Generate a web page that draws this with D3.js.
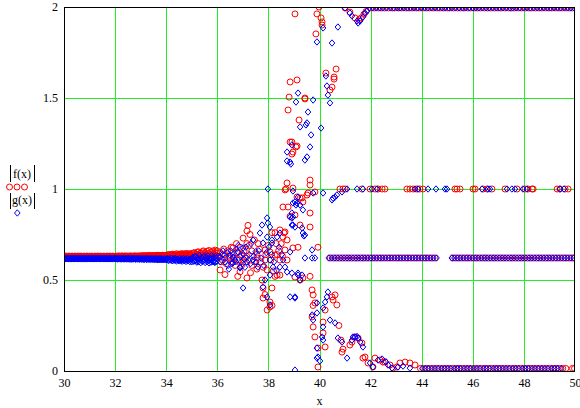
<!DOCTYPE html>
<html><head><meta charset="utf-8">
<script src="https://cdn.jsdelivr.net/npm/d3@7"></script>
<style>
body{margin:0;background:#fff}
svg{display:block}
text{font-family:"Liberation Serif","Times New Roman",serif;font-size:12px;fill:#000}
</style>
</head><body><svg id="c" width="580" height="408"></svg>
<script>
// ---------- axis ticks ----------
const xTicks = [30,32,34,36,38,40,42,44,46,48,50];
const yTicks = [0,0.5,1,1.5,2];
const yTickLabels = ["0","0.5","1","1.5","2"];
const xLabel = "x";
const fLabel = "f(x)";
const gLabel = "g(x)";

// ---------- steady band 30..36 (sample x, |f|, |g|) ----------
const bandX = [
  30.000,30.025,30.050,30.075,30.100,30.125,30.150,30.175,30.200,30.225,30.250,30.275,30.300,30.325,30.350,30.375,30.400,30.425,30.450,30.475,
  30.500,30.525,30.550,30.575,30.600,30.625,30.650,30.675,30.700,30.725,30.750,30.775,30.800,30.825,30.850,30.875,30.900,30.925,30.950,30.975,
  31.000,31.025,31.050,31.075,31.100,31.125,31.150,31.175,31.200,31.225,31.250,31.275,31.300,31.325,31.350,31.375,31.400,31.425,31.450,31.475,
  31.500,31.525,31.550,31.575,31.600,31.625,31.650,31.675,31.700,31.725,31.750,31.775,31.800,31.825,31.850,31.875,31.900,31.925,31.950,31.975,
  32.000,32.025,32.050,32.075,32.100,32.125,32.150,32.175,32.200,32.225,32.250,32.275,32.300,32.325,32.350,32.375,32.400,32.425,32.450,32.475,
  32.500,32.525,32.550,32.575,32.600,32.625,32.650,32.675,32.700,32.725,32.750,32.775,32.800,32.825,32.850,32.875,32.900,32.925,32.950,32.975,
  33.000,33.025,33.050,33.075,33.100,33.125,33.150,33.175,33.200,33.225,33.250,33.275,33.300,33.325,33.350,33.375,33.400,33.425,33.450,33.475,
  33.500,33.525,33.550,33.575,33.600,33.625,33.650,33.675,33.700,33.725,33.750,33.775,33.800,33.825,33.850,33.875,33.900,33.925,33.950,33.975,
  34.000,34.025,34.050,34.075,34.100,34.125,34.150,34.175,34.200,34.225,34.250,34.275,34.300,34.325,34.350,34.375,34.400,34.425,34.450,34.475,
  34.500,34.525,34.550,34.575,34.600,34.625,34.650,34.675,34.700,34.725,34.750,34.775,34.800,34.825,34.850,34.875,34.900,34.925,34.950,34.975,
  35.000,35.025,35.050,35.075,35.100,35.125,35.150,35.175,35.200,35.225,35.250,35.275,35.300,35.325,35.350,35.375,35.400,35.425,35.450,35.475,
  35.500,35.525,35.550,35.575,35.600,35.625,35.650,35.675,35.700,35.725,35.750,35.775,35.800,35.825,35.850,35.875,35.900,35.925,35.950,35.975];
const fBandY = [
  0.630,0.629,0.630,0.631,0.630,0.630,0.629,0.630,0.631,0.630,0.629,0.630,0.630,0.631,0.630,0.629,0.630,0.631,0.630,0.630,
  0.629,0.630,0.631,0.630,0.630,0.629,0.630,0.631,0.630,0.629,0.630,0.630,0.631,0.630,0.629,0.630,0.631,0.630,0.630,0.629,
  0.630,0.629,0.630,0.631,0.630,0.630,0.629,0.630,0.631,0.630,0.629,0.630,0.630,0.631,0.630,0.629,0.630,0.631,0.630,0.630,
  0.629,0.630,0.631,0.630,0.630,0.629,0.630,0.631,0.630,0.629,0.630,0.630,0.631,0.630,0.629,0.630,0.631,0.630,0.630,0.629,
  0.630,0.631,0.630,0.629,0.631,0.630,0.632,0.630,0.629,0.631,0.630,0.632,0.631,0.630,0.629,0.631,0.632,0.630,0.631,0.630,
  0.631,0.630,0.629,0.631,0.632,0.630,0.631,0.629,0.630,0.632,0.631,0.630,0.632,0.631,0.629,0.630,0.631,0.632,0.630,0.631,
  0.632,0.631,0.633,0.630,0.631,0.634,0.632,0.630,0.633,0.631,0.630,0.634,0.633,0.631,0.635,0.632,0.630,0.634,0.632,0.633,
  0.634,0.631,0.632,0.635,0.633,0.630,0.634,0.636,0.632,0.631,0.635,0.633,0.630,0.634,0.636,0.632,0.633,0.635,0.631,0.634,
  0.636,0.631,0.632,0.638,0.640,0.630,0.634,0.637,0.630,0.641,0.642,0.633,0.636,0.640,0.628,0.635,0.644,0.632,0.638,0.641,
  0.637,0.630,0.643,0.639,0.631,0.645,0.636,0.629,0.640,0.644,0.633,0.638,0.646,0.630,0.641,0.637,0.632,0.645,0.640,0.634,
  0.645,0.632,0.630,0.648,0.650,0.628,0.625,0.642,0.640,0.652,0.655,0.630,0.620,0.645,0.648,0.626,0.635,0.655,0.660,0.632,
  0.640,0.650,0.624,0.638,0.658,0.630,0.646,0.662,0.628,0.640,0.654,0.622,0.636,0.660,0.645,0.626,0.650,0.664,0.634,0.648];
const gBandY = [
  0.618,0.617,0.616,0.618,0.617,0.617,0.618,0.616,0.617,0.618,0.617,0.616,0.618,0.617,0.617,0.618,0.616,0.617,0.618,0.617,
  0.617,0.618,0.616,0.617,0.618,0.617,0.616,0.618,0.617,0.616,0.617,0.618,0.617,0.616,0.618,0.617,0.616,0.617,0.618,0.617,
  0.618,0.617,0.616,0.618,0.617,0.617,0.618,0.616,0.617,0.618,0.617,0.616,0.618,0.617,0.617,0.618,0.616,0.617,0.618,0.617,
  0.617,0.618,0.616,0.617,0.618,0.617,0.616,0.618,0.617,0.616,0.617,0.618,0.617,0.616,0.618,0.617,0.616,0.617,0.618,0.617,
  0.617,0.616,0.618,0.617,0.615,0.617,0.618,0.616,0.617,0.615,0.618,0.616,0.617,0.618,0.615,0.616,0.617,0.618,0.615,0.617,
  0.616,0.618,0.615,0.617,0.616,0.614,0.618,0.617,0.615,0.616,0.618,0.617,0.614,0.616,0.617,0.615,0.618,0.616,0.614,0.617,
  0.616,0.614,0.618,0.615,0.617,0.613,0.614,0.618,0.616,0.613,0.618,0.615,0.616,0.613,0.617,0.614,0.615,0.618,0.613,0.616,
  0.614,0.617,0.612,0.615,0.618,0.613,0.616,0.611,0.615,0.617,0.612,0.614,0.618,0.613,0.611,0.616,0.614,0.612,0.617,0.613,
  0.612,0.616,0.618,0.609,0.608,0.617,0.614,0.610,0.620,0.607,0.606,0.616,0.613,0.609,0.619,0.612,0.604,0.615,0.612,0.607,
  0.610,0.618,0.605,0.611,0.616,0.603,0.612,0.619,0.606,0.609,0.615,0.602,0.611,0.617,0.605,0.608,0.614,0.601,0.610,0.616,
  0.600,0.618,0.625,0.603,0.605,0.628,0.630,0.604,0.598,0.620,0.615,0.600,0.635,0.612,0.595,0.625,0.620,0.602,0.605,0.630,
  0.610,0.596,0.628,0.618,0.600,0.632,0.608,0.594,0.622,0.612,0.598,0.634,0.615,0.600,0.626,0.606,0.596,0.630,0.618,0.602];

// ---------- transition region 36..44 : [x, |f(x)|] ----------
const fScatter = [
  [36.00,0.66],[36.05,0.63],[36.11,0.65],[36.11,0.555],[36.15,0.60],[36.20,0.61],[36.25,0.67],[36.30,0.64],[36.30,0.53],
  [36.35,0.59],[36.40,0.66],[36.45,0.63],[36.50,0.62],[36.55,0.68],[36.60,0.60],[36.61,0.676],[36.65,0.62],[36.70,0.58],
  [36.75,0.70],[36.77,0.65],[36.80,0.52],[36.85,0.61],[36.89,0.68],[36.89,0.545],[36.95,0.64],[36.95,0.58],[37.01,0.73],
  [37.01,0.60],[37.05,0.66],[37.10,0.62],[37.15,0.63],[37.16,0.77],[37.16,0.70],[37.16,0.511],[37.20,0.80],[37.25,0.69],
  [37.28,0.75],[37.30,0.54],[37.35,0.66],[37.35,0.58],[37.45,0.60],[37.45,0.72],[37.55,0.56],[37.55,0.64],[37.56,0.621],
  [37.60,0.70],[37.65,0.67],[37.70,0.60],[37.75,0.50],[37.79,0.456],[37.79,0.401],[37.80,0.57],[37.87,0.665],[37.87,0.61],
  [37.87,0.42],[37.90,0.64],[37.95,0.555],[37.95,0.335],[38.00,0.69],[38.06,0.654],[38.06,0.379],[38.06,0.352],[38.10,0.61],
  [38.14,0.76],[38.14,0.456],[38.14,0.36],[38.20,0.55],[38.26,0.76],[38.26,0.637],[38.26,0.52],[38.30,0.70],[38.34,0.64],
  [38.34,0.527],[38.40,0.66],[38.45,0.775],[38.45,0.61],[38.45,0.527],[38.50,0.70],[38.55,0.63],[38.57,0.901],[38.57,0.736],
  [38.61,0.759],[38.65,0.995],[38.65,0.764],[38.65,0.665],[38.69,1.00],[38.73,1.033],[38.73,0.72],[38.73,0.61],[38.77,0.901],
  [38.77,1.434],[38.81,1.505],[38.85,0.85],[38.85,1.588],[38.85,1.258],[38.92,1.258],[38.92,1.192],[38.96,1.203],[38.96,1.005],
  [38.96,0.676],[39.04,1.962],[39.04,0.857],[39.04,0.516],[39.08,1.231],[39.12,1.599],[39.12,1.236],[39.12,0.956],[39.16,0.68],
  [39.20,1.379],[39.24,0.95],[39.24,0.802],[39.24,0.50],[39.32,0.951],[39.35,0.929],[39.35,0.511],[39.43,1.50],[39.43,1.495],
  [39.51,0.967],[39.55,0.978],[39.63,1.049],[39.63,1.022],[39.63,0.868],[39.63,0.791],[39.63,0.52],[39.71,0.445],[39.71,0.297],
  [39.75,0.418],[39.75,0.242],[39.75,0.36],[39.82,0.984],[39.82,0.374],[39.82,0.187],[39.86,1.852],[39.90,1.962],[39.94,0.68],
  [39.94,0.126],[39.94,0.022],[39.98,2.00],[40.06,1.94],[40.10,1.918],[40.10,1.901],[40.14,0.269],[40.14,0.209],[40.22,0.335],
  [40.22,0.132],[40.25,1.637],[40.41,1.544],[40.49,1.560],[40.49,0.407],[40.53,0.390],[40.57,1.615],[40.57,1.604],[40.61,0.418],
  [40.65,1.659],[40.68,0.363],[40.76,0.25],[40.84,0.17],[40.88,0.104],[40.92,0.12],[41.00,1.995],[41.19,0.143],[41.19,1.972],
  [41.27,0.159],[41.39,0.187],[41.39,1.94],[41.51,0.181],[41.55,1.93],[41.63,1.94],[41.66,0.154],[41.70,0.071],[41.74,1.96],
  [41.78,0.077],[41.82,1.975],[41.90,0.044],[42.09,0.022],[42.17,0.071],[42.37,0.060],[42.49,0.049],[42.56,0.050],[42.76,0.033],
  [42.88,0.016],[43.03,0.022],[43.15,0.044],[43.35,0.049],[43.54,0.044],[43.74,0.033]
];
// ---------- transition region 36..44 : [x, |g(x)|] ----------
const gScatter = [
  [35.91,0.599],[36.02,0.63],[36.11,0.626],[36.12,0.60],[36.20,0.64],[36.22,0.66],[36.30,0.60],[36.32,0.62],[36.40,0.65],
  [36.42,0.58],[36.45,0.56],[36.50,0.637],[36.52,0.66],[36.55,0.59],[36.61,0.626],[36.61,0.593],[36.62,0.64],[36.70,0.61],
  [36.72,0.60],[36.75,0.67],[36.81,0.654],[36.82,0.69],[36.89,0.571],[36.89,0.566],[36.90,0.63],[36.92,0.60],[37.01,0.676],
  [37.01,0.456],[37.02,0.64],[37.05,0.615],[37.08,0.57],[37.12,0.68],[37.16,0.599],[37.22,0.61],[37.25,0.64],[37.30,0.59],
  [37.32,0.70],[37.40,0.72],[37.40,0.610],[37.42,0.63],[37.50,0.655],[37.52,0.60],[37.59,0.571],[37.62,0.66],[37.67,0.758],
  [37.72,0.62],[37.75,0.802],[37.79,0.703],[37.79,0.462],[37.82,0.58],[37.87,0.50],[37.92,0.65],[37.95,0.841],[37.95,0.736],
  [37.95,0.407],[37.98,1.00],[37.98,0.813],[38.02,0.68],[38.06,0.791],[38.06,0.610],[38.06,0.527],[38.06,0.363],[38.12,0.64],
  [38.14,0.72],[38.14,0.703],[38.18,0.571],[38.22,0.60],[38.32,0.55],[38.34,0.736],[38.42,0.68],[38.45,0.758],[38.45,0.571],
  [38.52,0.64],[38.58,0.61],[38.65,0.571],[38.73,1.203],[38.73,1.154],[38.73,0.544],[38.85,1.148],[38.85,0.846],[38.85,0.654],
  [38.85,0.407],[38.88,1.137],[38.92,1.242],[38.92,0.868],[38.92,0.841],[38.92,0.802],[38.92,0.538],[38.96,0.989],[38.96,0.923],
  [38.96,0.846],[38.96,0.802],[39.04,0.929],[39.04,0.791],[39.04,0.407],[39.04,0.401],[39.04,0.005],[39.08,1.478],[39.08,0.912],
  [39.12,0.923],[39.16,1.527],[39.16,0.956],[39.16,0.538],[39.16,0.527],[39.24,1.341],[39.24,0.912],[39.24,0.50],[39.32,0.786],
  [39.32,0.527],[39.35,0.885],[39.35,0.758],[39.39,0.742],[39.43,1.159],[39.43,0.747],[39.43,0.621],[39.47,1.352],[39.51,1.363],
  [39.51,1.176],[39.55,1.423],[39.63,1.231],[39.67,1.297],[39.71,0.665],[39.71,0.621],[39.71,0.308],[39.75,1.489],[39.75,0.978],
  [39.75,0.280],[39.82,0.621],[39.90,1.808],[39.90,0.374],[39.90,0.319],[39.90,0.126],[39.90,0.071],[39.94,0.077],[40.02,0.055],
  [40.06,1.335],[40.10,0.187],[40.14,1.885],[40.14,0.978],[40.14,0.346],[40.14,0.242],[40.14,0.170],[40.22,0.379],[40.25,1.621],
  [40.29,1.566],[40.29,0.407],[40.33,1.516],[40.33,0.434],[40.41,1.473],[40.41,0.280],[40.49,1.802],[40.49,0.94],[40.53,0.95],
  [40.61,0.956],[40.61,0.264],[40.68,0.967],[40.72,1.89],[40.72,0.181],[40.88,0.984],[40.88,0.159],[41.00,1.995],[41.08,0.071],
  [41.19,1.967],[41.27,1.951],[41.27,0.170],[41.31,0.187],[41.39,0.187],[41.47,1.923],[41.47,0.190],[41.51,1.912],[41.51,0.181],
  [41.59,1.923],[41.59,0.159],[41.70,1.945],[41.70,0.132],[41.78,1.967],[41.86,1.978],[41.98,0.044],[42.09,0.022],[42.29,0.060],
  [42.45,0.066],[42.60,0.050],[42.68,0.033],[42.84,0.016],[43.07,0.022],[43.27,0.027],[43.54,0.016]
];

// ---------- settled levels after x≈40 ----------
const levelTop = 1.995, levelOne = 1.0, levelMid = 0.621, levelLow = 0.014;
const fTopX = [42.02,42.15,42.30,42.42,42.55,42.70,42.85,42.95,43.10,43.22,43.38,43.50,43.62,43.78,43.90,
  44.05,44.18,44.30,44.45,44.60,44.72,44.85,45.00,45.10,45.25,45.40,45.52,45.65,45.80,45.92,46.05,46.18,
  46.30,46.45,46.58,46.70,46.85,46.98,47.10,47.25,47.40,47.50,47.62,47.78,47.90,48.05,48.20,48.30,48.45,
  48.58,48.70,48.85,48.98,49.10,49.25,49.38,49.50,49.65,49.78,49.90];
const gTopX = [41.95,42.08,42.22,42.36,42.48,42.62,42.78,42.90,43.05,43.16,43.30,43.44,43.56,43.70,43.84,
  43.98,44.12,44.24,44.38,44.52,44.66,44.80,44.92,45.06,45.18,45.32,45.46,45.60,45.72,45.86,46.00,46.12,
  46.24,46.38,46.52,46.64,46.78,46.92,47.04,47.18,47.32,47.46,47.56,47.70,47.84,47.98,48.12,48.25,48.38,
  48.52,48.64,48.78,48.92,49.04,49.18,49.32,49.44,49.58,49.72,49.84,49.97];
const fOneX = [40.80,40.92,41.00,41.66,41.98,42.17,42.29,42.45,42.56,43.42,43.54,43.66,43.82,43.93,44.05,
  45.30,45.38,45.50,46.01,46.09,46.40,46.56,46.75,47.26,47.73,48.04,48.16,48.32,48.36,49.30,49.41,49.61,49.73];
const gOneX = [41.08,41.47,41.70,42.05,42.25,43.74,43.86,44.25,44.56,44.91,44.99,46.36,46.59,46.67,47.34,
  47.53,47.65,47.96,48.12,49.41,49.57];
const fMidX = [40.42,40.55,40.66,40.78,40.90,41.02,41.13,41.25,41.37,41.48,41.60,41.71,41.83,41.95,42.06,
  42.18,42.30,42.41,42.53,42.65,42.76,42.88,43.00,43.11,43.23,43.35,43.46,43.58,43.70,43.81,43.93,44.05,
  44.16,44.28,44.40,44.52,45.22,45.34,45.45,45.57,45.69,45.80,45.92,46.04,46.15,46.27,46.39,46.50,46.62,
  46.74,46.85,46.97,47.09,47.20,47.32,47.44,47.55,47.67,47.79,47.90,48.02,48.14,48.25,48.37,48.49,48.60,
  48.72,48.84,48.95,49.07,49.19,49.30,49.42,49.54,49.65,49.77,49.89,49.98];
const gMidX = [40.36,40.48,40.60,40.72,40.84,40.96,41.08,41.19,41.31,41.43,41.54,41.66,41.77,41.89,42.01,
  42.12,42.24,42.36,42.47,42.59,42.71,42.82,42.94,43.06,43.17,43.29,43.41,43.52,43.64,43.76,43.87,43.99,
  44.11,44.22,44.34,44.46,44.58,45.18,45.28,45.40,45.51,45.63,45.75,45.86,45.98,46.10,46.21,46.33,46.45,
  46.56,46.68,46.80,46.91,47.03,47.15,47.26,47.38,47.50,47.61,47.73,47.85,47.96,48.08,48.20,48.31,48.43,
  48.55,48.66,48.78,48.90,49.01,49.13,49.25,49.36,49.48,49.60,49.71,49.83,49.95];
const fLowX = [43.95,44.08,44.20,44.32,44.46,44.58,44.70,44.84,44.96,45.08,45.20,45.34,45.46,45.58,45.72,
  45.84,45.96,46.10,46.22,46.34,46.48,46.60,46.72,46.86,46.98,47.10,47.24,47.36,47.48,47.62,47.74,47.86,
  48.00,48.12,48.24,48.38,48.50,48.62,48.76,48.88,49.00,49.14,49.26,49.38,49.52,49.64,49.90,49.98];
const gLowX = [44.02,44.14,44.26,44.40,44.52,44.64,44.78,44.90,45.02,45.14,45.28,45.40,45.52,45.66,45.78,
  45.90,46.04,46.16,46.28,46.42,46.54,46.66,46.80,46.92,47.04,47.18,47.30,47.42,47.56,47.68,47.80,47.94,
  48.06,48.18,48.32,48.44,48.56,48.70,48.82,48.94,49.08,49.20,49.32,49.46];

// ---------- assemble ----------
function collect(bY, scatter, topX, oneX, midX, lowX){
  const pts = bandX.map((v,i)=>[v,bY[i]]).concat(scatter);
  topX.forEach(v=>pts.push([v,levelTop]));
  oneX.forEach(v=>pts.push([v,levelOne]));
  midX.forEach(v=>pts.push([v,levelMid]));
  lowX.forEach(v=>pts.push([v,levelLow]));
  return pts;
}
const fPts = collect(fBandY, fScatter, fTopX, fOneX, fMidX, fLowX);
const gPts = collect(gBandY, gScatter, gTopX, gOneX, gMidX, gLowX);

// ---------- drawing ----------
const svg = d3.select("#c");
const P = {l:64, r:575, t:7, b:371};
const x = d3.scaleLinear().domain([30,50]).range([P.l,P.r]);
const y = d3.scaleLinear().domain([0,2]).range([P.b,P.t]);
const red = "#ff0000", blue = "#0000ff", grid = "#22ee22";

svg.append("rect").attr("width",580).attr("height",408).attr("fill","#fff");

// grid
svg.append("g").selectAll("line").data(xTicks.slice(1,-1)).join("line")
  .attr("x1",d=>Math.round(x(d))+0.5).attr("x2",d=>Math.round(x(d))+0.5)
  .attr("y1",P.t).attr("y2",P.b).attr("stroke",grid).attr("stroke-width",1);
svg.append("g").selectAll("line").data(yTicks.slice(1,-1)).join("line")
  .attr("y1",d=>Math.round(y(d))+0.5).attr("y2",d=>Math.round(y(d))+0.5)
  .attr("x1",P.l).attr("x2",P.r).attr("stroke",grid).attr("stroke-width",1);

// markers
svg.append("defs").append("clipPath").attr("id","clip").append("rect")
  .attr("x",P.l).attr("y",P.t).attr("width",P.r-P.l).attr("height",P.b-P.t);
const plot = svg.append("g").attr("clip-path","url(#clip)");
plot.append("g").selectAll("circle").data(fPts).join("circle")
  .attr("cx",d=>x(d[0])).attr("cy",d=>y(d[1])).attr("r",3)
  .attr("fill","none").attr("stroke",red).attr("stroke-width",1);
const diamond = "M0,-3.2L2.8,0L0,3.2L-2.8,0Z";
plot.append("g").selectAll("path").data(gPts).join("path")
  .attr("d",diamond).attr("transform",d=>`translate(${x(d[0])},${y(d[1])})`)
  .attr("fill","none").attr("stroke",blue).attr("stroke-width",1);

// frame
svg.append("rect").attr("x",P.l+0.5).attr("y",P.t+0.5).attr("width",P.r-P.l-1).attr("height",P.b-P.t)
  .attr("fill","none").attr("stroke","#000").attr("stroke-width",1);

// axes labels
const xa = svg.append("g").attr("transform",`translate(0,${P.b})`)
  .call(d3.axisBottom(x).tickValues(xTicks).tickSize(0).tickPadding(7).tickFormat(d3.format("d")));
xa.select(".domain").remove();
const ya = svg.append("g").attr("transform",`translate(${P.l},0)`)
  .call(d3.axisLeft(y).tickValues(yTicks).tickSize(0).tickPadding(6).tickFormat((d,i)=>yTickLabels[i]));
ya.select(".domain").remove();
svg.selectAll(".tick text").attr("font-family",'"Liberation Serif","Times New Roman",serif').attr("font-size",12).attr("fill","#000");

svg.append("text").attr("x",(P.l+P.r)/2).attr("y",405).attr("text-anchor","middle").text(xLabel);

// legend
const lg = svg.append("g");
lg.append("text").attr("x",22).attr("y",178).attr("text-anchor","middle").text(fLabel);
lg.append("line").attr("x1",10.5).attr("x2",10.5).attr("y1",165).attr("y2",182).attr("stroke","#000");
lg.append("line").attr("x1",34.5).attr("x2",34.5).attr("y1",165).attr("y2",182).attr("stroke","#000");
lg.selectAll("circle").data([9.5,17,24.5]).join("circle").attr("cx",d=>d).attr("cy",187).attr("r",3)
  .attr("fill","none").attr("stroke",red);
lg.append("text").attr("x",22).attr("y",204).attr("text-anchor","middle").text(gLabel);
lg.append("line").attr("x1",10.5).attr("x2",10.5).attr("y1",193).attr("y2",209).attr("stroke","#000");
lg.append("line").attr("x1",34.5).attr("x2",34.5).attr("y1",193).attr("y2",209).attr("stroke","#000");
lg.append("path").attr("d",diamond).attr("transform","translate(17.3,213)").attr("fill","none").attr("stroke",blue);
</script>
</body></html>
